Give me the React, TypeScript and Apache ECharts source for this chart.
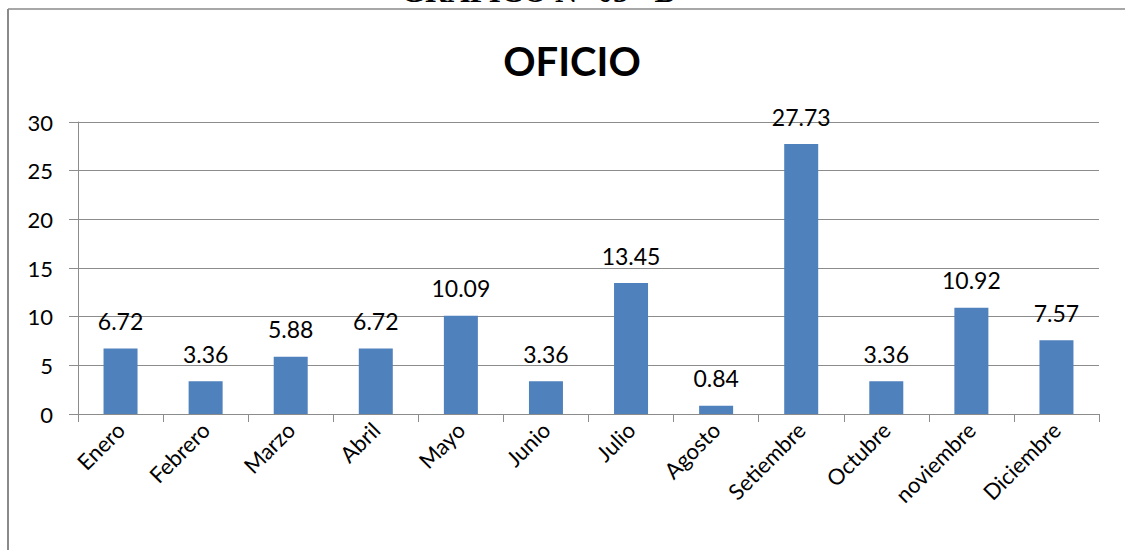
import React, { useEffect, useRef } from "react";
import * as echarts from "echarts";

const months = ["Enero", "Febrero", "Marzo", "Abril", "Mayo", "Junio", "Julio", "Agosto", "Setiembre", "Octubre", "noviembre", "Diciembre"];
const values = [6.72, 3.36, 5.88, 6.72, 10.09, 3.36, 13.45, 0.84, 27.73, 3.36, 10.92, 7.57];
const chartTitle = "OFICIO";
const pageHeading = "GRAFICO N° 05 - B";

const FONT = "Lato, 'Open Sans', sans-serif";

export default function App() {
  const ref = useRef<HTMLDivElement>(null);
  useEffect(() => {
    if (!ref.current) return;
    const chart = echarts.init(ref.current, null, { renderer: "svg" });
    chart.setOption({
      animation: false,
      backgroundColor: "#ffffff",
      title: {
        text: chartTitle,
        left: 567,
        top: 36,
        textAlign: "center",
        textStyle: { fontFamily: FONT, fontSize: 40, fontWeight: "bold", color: "#000" },
      },
      graphic: [
        {
          type: "text",
          x: 538,
          y: -24,
          style: {
            text: pageHeading,
            font: "bold 31px 'Liberation Serif', serif",
            fill: "#000",
            textAlign: "center",
            textVerticalAlign: "top",
          },
        },
        { type: "line", shape: { x1: 8, y1: 9, x2: 1125, y2: 9 }, style: { stroke: "#8a8a8a", lineWidth: 1.5 } },
        { type: "line", shape: { x1: 8, y1: 9, x2: 8, y2: 550 }, style: { stroke: "#8a8a8a", lineWidth: 2 } },
      ],
      grid: { left: 78, right: 26, top: 122, bottom: 136, containLabel: false },
      xAxis: {
        type: "category",
        data: months,
        boundaryGap: true,
        axisLine: { show: true, lineStyle: { color: "#8c8c8c", width: 1 } },
        axisTick: { show: true, length: 8, alignWithLabel: false, lineStyle: { color: "#8c8c8c" } },
        axisLabel: {
          rotate: 45,
          interval: 0,
          margin: 12,
          fontFamily: FONT,
          fontSize: 22,
          color: "#000",
        },
      },
      yAxis: {
        type: "value",
        min: 0,
        max: 30,
        interval: 5,
        axisLine: { show: true, lineStyle: { color: "#8c8c8c", width: 1 } },
        axisTick: { show: true, length: 9, lineStyle: { color: "#8c8c8c" } },
        splitLine: { show: true, lineStyle: { color: "#8c8c8c", width: 1 } },
        axisLabel: { margin: 25, fontFamily: FONT, fontSize: 22, color: "#000" },
      },
      series: [
        {
          type: "bar",
          data: values,
          barWidth: 34,
          itemStyle: { color: "#4F81BD" },
          label: {
            show: true,
            position: "top",
            distance: 16,
            fontFamily: FONT,
            fontSize: 23,
            color: "#000",
            formatter: (p: any) => p.value.toFixed(2),
          },
        },
      ],
    });
    return () => chart.dispose();
  }, []);
  return (
    <div
      ref={ref}
      style={{ position: "absolute", left: 0, top: 0, width: 1125, height: 550, background: "#fff" }}
    />
  );
}
